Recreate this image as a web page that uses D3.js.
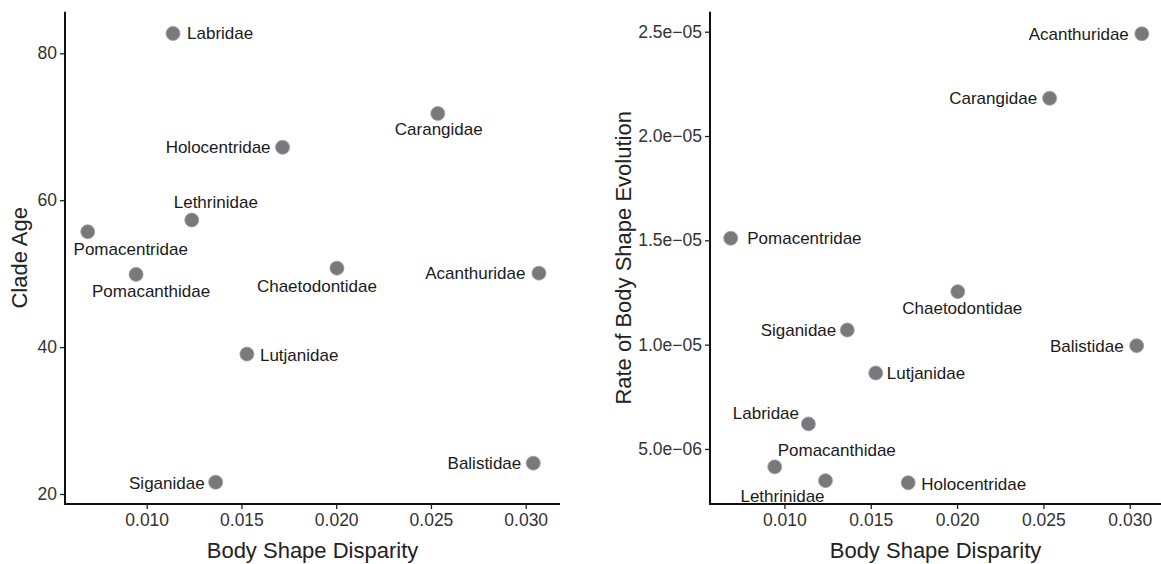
<!DOCTYPE html>
<html>
<head>
<meta charset="utf-8">
<script src="https://d3js.org/d3.v7.min.js"></script>
<style>
  body { margin: 0; background: #fff; }
  text { font-family: "Liberation Sans", Arial, Helvetica, sans-serif; }
</style>
</head>
<body>
<script>
// data
var families  = ["Labridae", "Carangidae", "Holocentridae", "Lethrinidae", "Pomacentridae", "Pomacanthidae",
                 "Chaetodontidae", "Acanthuridae", "Lutjanidae", "Balistidae", "Siganidae"];
var disparity = [0.01139, 0.02536, 0.01717, 0.01238, 0.00689, 0.00944, 0.02004, 0.0307, 0.01529, 0.0304, 0.01364];
var cladeAge  = [82.7, 71.8, 67.2, 57.3, 55.7, 49.9, 50.75, 50.07, 39.05, 24.2, 21.6];
var rate      = [6.2e-6, 2.181e-5, 3.38e-6, 3.48e-6, 1.51e-5, 4.14e-6, 1.254e-5, 2.49e-5, 8.64e-6, 0.995e-5, 1.07e-5];

var xTicks     = [0.010, 0.015, 0.020, 0.025, 0.030];
var ageTicks   = [20, 40, 60, 80];
var rateTicks  = [5e-6, 1e-5, 1.5e-5, 2e-5, 2.5e-5];

// label placement (dx, dy, anchor) per family, left then right panel
var leftLabelPos = [[14,0,"start"],[1,16,"middle"],[-12,-0.5,"end"],[24,-18,"middle"],[43,17.5,"middle"],[15,16.5,"middle"],
                    [-20,17.5,"middle"],[-13.5,0,"end"],[13,0.5,"start"],[-12,0,"end"],[-11,1,"end"]];
var rightLabelPos = [[-42.5,-11,"middle"],[-12.5,0,"end"],[13,1.3,"start"],[-43,15,"middle"],[16.5,0,"start"],[62,-17,"middle"],
                     [4.5,16.5,"middle"],[-13,0,"end"],[11,0,"start"],[-13,0,"end"],[-11,0,"end"]];

var W = 1161, H = 564;
var svg = d3.select("body").append("svg").attr("width", W).attr("height", H);

var plotTop = 11.7, plotBottom = 504;

function rFmt(v) {
  var s = d3.format(".1e")(v);           // 2.5e-5
  var m = s.split("e");
  var ex = +m[1];
  var sign = ex < 0 ? "\u2212" : "+";
  var ab = Math.abs(ex);
  return m[0] + "e" + sign + (ab < 10 ? "0" + ab : ab);
}

function panel(left, right, yVals, yDomain, yTickVals, yFmt, yTitle, titleX, labelPos) {
  var x = d3.scaleLinear().domain([0.00569, 0.03181]).range([left, right]);
  var y = d3.scaleLinear().domain(yDomain).range([plotBottom, plotTop]);

  var g = svg.append("g");

  var xAxis = g.append("g")
      .attr("transform", "translate(0," + plotBottom + ")")
      .call(d3.axisBottom(x).tickValues(xTicks).tickFormat(d3.format(".3f")).tickSizeOuter(0).tickSize(5).tickPadding(5));
  var yAxis = g.append("g")
      .attr("transform", "translate(" + left + ",0)")
      .call(d3.axisLeft(y).tickValues(yTickVals).tickFormat(yFmt).tickSizeOuter(0).tickSize(5).tickPadding(3));

  [xAxis, yAxis].forEach(function(a) {
    a.select(".domain").attr("stroke", "#111").attr("stroke-width", 2);
    a.selectAll(".tick line").attr("stroke", "#222").attr("stroke-width", 1.3);
    a.selectAll(".tick text").attr("fill", "#333").style("font-size", "17.5px");
  });
  // make the two axis lines meet in the corner
  xAxis.select(".domain").attr("d", "M" + (left - 1) + ",0H" + right);
  yAxis.select(".domain").attr("d", "M0," + plotTop + "V" + (plotBottom + 1));

  g.append("text")
      .attr("x", (left + right) / 2)
      .attr("y", 558)
      .attr("text-anchor", "middle")
      .style("font-size", "22px")
      .attr("fill", "#222")
      .text("Body Shape Disparity");

  g.append("text")
      .attr("transform", "translate(" + titleX + "," + ((plotTop + plotBottom) / 2) + ") rotate(-90)")
      .attr("dy", "0.35em")
      .attr("text-anchor", "middle")
      .style("font-size", "22px")
      .attr("fill", "#222")
      .text(yTitle);

  var pts = families.map(function(f, i) { return {name: f, x: disparity[i], y: yVals[i], lp: labelPos[i]}; });

  g.selectAll(".dot")
      .data(pts)
    .enter().append("circle")
      .attr("class", "dot")
      .attr("cx", function(d) { return x(d.x); })
      .attr("cy", function(d) { return y(d.y); })
      .attr("r", 7)
      .attr("fill", "#79797d")
      .attr("stroke", "#a0a0a4")
      .attr("stroke-width", 0.8);

  g.selectAll(".lbl")
      .data(pts)
    .enter().append("text")
      .attr("class", "lbl")
      .attr("x", function(d) { return x(d.x) + d.lp[0]; })
      .attr("y", function(d) { return y(d.y) + d.lp[1]; })
      .attr("dy", "0.35em")
      .attr("text-anchor", function(d) { return d.lp[2]; })
      .style("font-size", "17px")
      .attr("fill", "#1a1a1a")
      .text(function(d) { return d.name; });
}

panel(65, 560, cladeAge, [18.64, 85.66], ageTicks, d3.format("d"), "Clade Age", 19, leftLabelPos);
panel(710, 1161, rate, [2.36e-6, 2.596e-5], rateTicks, rFmt, "Rate of Body Shape Evolution", 623, rightLabelPos);
</script>
</body>
</html>
